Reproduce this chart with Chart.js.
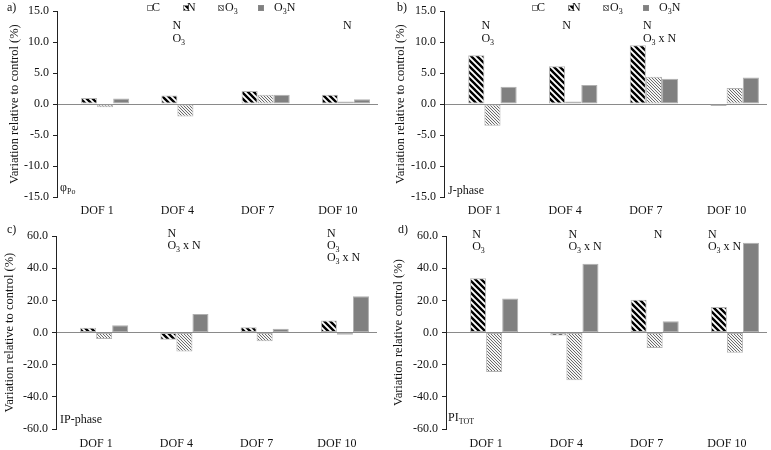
<!DOCTYPE html>
<html><head><meta charset="utf-8">
<script src="https://cdn.jsdelivr.net/npm/chart.js@4"></script>
<style>
html,body{margin:0;padding:0;background:#fff;}
#wrap{position:relative;width:771px;height:450px;overflow:hidden;}
#wrap canvas{position:absolute;}
</style></head><body>
<div id="wrap">
<canvas id="pa" width="385" height="225" style="left:0;top:0"></canvas>
<canvas id="pb" width="386" height="225" style="left:385px;top:0"></canvas>
<canvas id="pc" width="385" height="225" style="left:0;top:225px"></canvas>
<canvas id="pd" width="386" height="225" style="left:385px;top:225px"></canvas>
</div>
<script>
// ---------- data ----------
const categories = ['DOF 1', 'DOF 4', 'DOF 7', 'DOF 10'];
const seriesLabels = ['C', 'N', 'O_{3}', 'O_{3}N'];
const yTicksSmall = [-15, -10, -5, 0, 5, 10, 15];
const yTicksLarge = [-60, -40, -20, 0, 20, 40, 60];

// a) phi Po
const phiC   = [0, 0, 0, 0];
const phiN   = [1.0, 1.4, 2.1, 1.5];
const phiO3  = [-0.5, -2.0, 1.5, 0.4];
const phiO3N = [0.9, 0.0, 1.5, 0.8];
// b) J-phase
const jC   = [0, 0, 0, 0];
const jN   = [7.9, 6.1, 9.5, -0.3];
const jO3  = [-3.5, 0.4, 4.4, 2.6];
const jO3N = [2.8, 3.1, 4.1, 4.3];
// c) IP-phase
const ipC   = [0, 0, 0, 0];
const ipN   = [3.0, -4.4, 3.4, 7.6];
const ipO3  = [-4.0, -11.8, -5.4, -1.4];
const ipO3N = [4.6, 11.6, 2.4, 22.6];
// d) PI TOT
const piC   = [0, 0, 0, 0];
const piN   = [33.8, -1.8, 20.4, 16.0];
const piO3  = [-24.6, -29.6, -9.6, -12.6];
const piO3N = [21.2, 42.8, 7.1, 56.0];

// significance annotations per category
const annA = [[], ['N', 'O_{3}'], [], ['N']];
const annB = [['N', 'O_{3}'], ['N'], ['N', 'O_{3} x N'], []];
const annC = [[], ['N', 'O_{3} x N'], [], ['N', 'O_{3}', 'O_{3} x N']];
const annD = [['N', 'O_{3}'], ['N', 'O_{3} x N'], ['N'], ['N', 'O_{3} x N']];

// ---------- styles ----------
const FONT = '"Liberation Serif", "Times New Roman", serif';
const TXT = '#111';
function hatch(size, lw, color, bg) {
  const c = document.createElement('canvas'); c.width = c.height = size;
  const x = c.getContext('2d');
  x.fillStyle = bg; x.fillRect(0, 0, size, size);
  x.strokeStyle = color; x.lineWidth = lw; x.lineCap = 'square';
  x.beginPath();
  for (let k = -1; k <= 1; k++) { x.moveTo(-1, k * size - 1); x.lineTo(size + 1, size + k * size + 1); }
  x.stroke();
  return x.createPattern(c, 'repeat');
}
const patN = hatch(6, 2.4, '#000', '#fff');
const patO3 = hatch(3, 1, '#6a6a6a', '#f4f4f4');
const fills = ['#ffffff', patN, patO3, '#808080'];
const borders = ['#a0a0a0', '#b5b5b5', '#b5b5b5', '#b0b0b0'];
const legendSymX = [147, 183, 218, 258];
const legendTxtX = [152, 187, 225, 274];

function drawRich(ctx, str, x, y, size, align) {
  const parts = []; const re = /_\{([^}]*)\}/g; let last = 0, m;
  while ((m = re.exec(str))) {
    if (m.index > last) parts.push({ t: str.slice(last, m.index), sub: false });
    parts.push({ t: m[1], sub: true }); last = re.lastIndex;
  }
  if (last < str.length) parts.push({ t: str.slice(last), sub: false });
  const fN = size + 'px ' + FONT, fS = Math.round(size * 0.68) + 'px ' + FONT;
  let w = 0;
  parts.forEach(p => { ctx.font = p.sub ? fS : fN; p.w = ctx.measureText(p.t).width; w += p.w; });
  let cx = align === 'center' ? x - w / 2 : x;
  ctx.textAlign = 'left'; ctx.textBaseline = 'middle'; ctx.fillStyle = TXT;
  parts.forEach(p => { ctx.font = p.sub ? fS : fN; ctx.fillText(p.t, cx, y + (p.sub ? size * 0.3 : 0)); cx += p.w; });
}

function textPlugin(cfg) {
  return {
    id: 'txt' + cfg.id,
    afterDraw(chart) {
      const ctx = chart.ctx; ctx.save();
      drawRich(ctx, cfg.letter, cfg.letterX, cfg.letterY, 12, 'left');
      drawRich(ctx, cfg.inner, cfg.innerX, cfg.innerY, 12, 'left');
      if (cfg.legend) {
        for (let i = 0; i < seriesLabels.length; i++) {
          const sx = legendSymX[i], sy = 5;
          ctx.fillStyle = fills[i]; ctx.fillRect(sx, sy, 5, 5);
          ctx.strokeStyle = '#888'; ctx.lineWidth = 1; ctx.strokeRect(sx + 0.5, sy + 0.5, 5, 5);
          drawRich(ctx, seriesLabels[i], legendTxtX[i], 8, 12, 'left');
        }
      }
      const xs = chart.scales.x;
      cfg.ann.forEach((lines, i) => {
        const x0 = xs.getPixelForValue(i) + cfg.annDx[i];
        lines.forEach((ln, j) => drawRich(ctx, ln, x0, cfg.annY + j * cfg.annStep, 12, 'left'));
      });
      ctx.restore();
    }
  };
}

function makePanel(cfg) {
  const canvas = document.getElementById(cfg.id);
  const datasets = cfg.series.map((vals, i) => ({
    label: seriesLabels[i], data: vals,
    backgroundColor: fills[i], borderColor: borders[i], borderWidth: 1,
    categoryPercentage: 0.8, barPercentage: 1.0, borderSkipped: false
  }));
  const font = { family: FONT, size: 12 };
  new Chart(canvas.getContext('2d'), {
    type: 'bar',
    data: { labels: categories, datasets },
    options: {
      responsive: false, animation: false, devicePixelRatio: 1,
      layout: { padding: { left: 0, top: cfg.top, right: canvas.width - cfg.right, bottom: 0 } },
      plugins: { legend: { display: false }, tooltip: { enabled: false } },
      scales: {
        x: {
          grid: { display: false, drawTicks: false }, border: { display: false },
          ticks: { font, color: TXT, padding: cfg.xPad, maxRotation: 0 },
          afterFit(s) { s.height = canvas.height - cfg.bottom; }
        },
        y: {
          min: cfg.yticks[0], max: cfg.yticks[cfg.yticks.length - 1],
          afterBuildTicks(s) { s.ticks = cfg.yticks.map(v => ({ value: v })); },
          ticks: { font, color: TXT, padding: 4, callback: v => v.toFixed(1) },
          grid: {
            color: c => (c.tick && c.tick.value === 0) ? '#8a8a8a' : 'rgba(0,0,0,0)',
            tickColor: '#222', tickLength: 4, lineWidth: 1
          },
          border: { display: true, color: '#222', width: 1 },
          title: { display: true, text: cfg.ytitle, font: { family: FONT, size: 12.5 }, color: TXT, padding: { top: cfg.titlePad, bottom: 0 } },
          afterFit(s) { s.width = cfg.left; }
        }
      }
    },
    plugins: [textPlugin(cfg)]
  });
}

makePanel({ id: 'pa', series: [phiC, phiN, phiO3, phiO3N], yticks: yTicksSmall,
  top: 8, bottom: 197, left: 57, right: 378, titlePad: 7, xPad: 7,
  ytitle: 'Variation relative to control (%)', letter: 'a)', letterX: 7, letterY: 8,
  inner: 'φ_{Po}', innerX: 60, innerY: 188, legend: true,
  ann: annA, annDx: [0, -5, 0, 5], annY: 26, annStep: 13 });
makePanel({ id: 'pb', series: [jC, jN, jO3, jO3N], yticks: yTicksSmall,
  top: 8, bottom: 197, left: 59, right: 382, titlePad: 8, xPad: 7,
  ytitle: 'Variation relative to control (%)', letter: 'b)', letterX: 12, letterY: 8,
  inner: 'J-phase', innerX: 63, innerY: 191, legend: true,
  ann: annB, annDx: [-3, -3, -3, 0], annY: 26, annStep: 13 });
makePanel({ id: 'pc', series: [ipC, ipN, ipO3, ipO3N], yticks: yTicksLarge,
  top: 4, bottom: 204, left: 56, right: 377, titlePad: 2, xPad: 8,
  ytitle: 'Variation relative to control (%)', letter: 'c)', letterX: 7, letterY: 5,
  inner: 'IP-phase', innerX: 60, innerY: 195, legend: false,
  ann: annC, annDx: [0, -9, 0, -10], annY: 9, annStep: 12 });
makePanel({ id: 'pd', series: [piC, piN, piO3, piO3N], yticks: yTicksLarge,
  top: 4, bottom: 204, left: 61, right: 382, titlePad: 6, xPad: 8,
  ytitle: 'Variation relative control (%)', letter: 'd)', letterX: 13, letterY: 5,
  inner: 'PI_{TOT}', innerX: 63, innerY: 193, legend: false,
  ann: annD, annDx: [-14, 2, 7, -19], annY: 10, annStep: 12 });
</script>
</body></html>
